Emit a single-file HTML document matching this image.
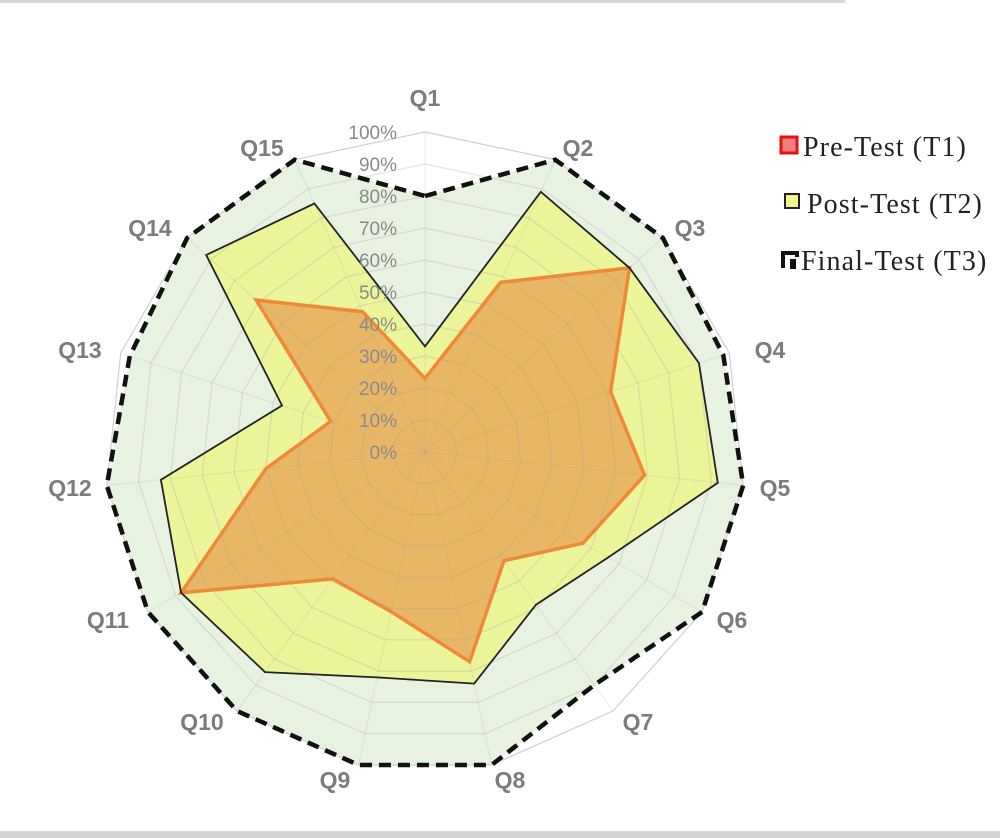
<!DOCTYPE html>
<html><head><meta charset="utf-8"><style>
html,body{margin:0;padding:0;background:#fff;}
svg{display:block}
</style></head><body>
<svg id="s" width="1000" height="838" xmlns="http://www.w3.org/2000/svg">
<rect x="0" y="0" width="1000" height="838" fill="#fff"/>
<rect x="0" y="0" width="845" height="3" fill="#d8d8d8"/>
<rect x="0" y="831" width="1000" height="7" fill="#d4d4d4"/>
<g id="g"></g>
<g font-family="Liberation Serif, serif" font-size="28" letter-spacing="1.1" fill="#222">
<rect x="781" y="137" width="16" height="16" fill="#f08080" stroke="#e81010" stroke-width="3"/>
<text x="803" y="156">Pre-Test (T1)</text>
<rect x="785" y="194" width="14" height="14" fill="#f5f590" stroke="#222" stroke-width="2"/>
<text x="807" y="213">Post-Test (T2)</text>
<path d="M783 268 V253 H797 V257" fill="none" stroke="#111" stroke-width="4"/>
<rect x="790" y="259" width="6" height="10" fill="#111"/>
<text x="801" y="270">Final-Test (T3)</text>
</g>
</svg>
<script>
const cx=425,cy=452,R=320,N=15,ns="http://www.w3.org/2000/svg";
const g=document.getElementById('g');
function pt(i,v){const a=i*2*Math.PI/N;return [cx+R*v*Math.sin(a),cy-R*v*Math.cos(a)];}
function poly(vals,attrs){const p=document.createElementNS(ns,'polygon');p.setAttribute('points',vals.map((v,i)=>pt(i,v).map(n=>n.toFixed(1)).join(',')).join(' '));for(const k in attrs)p.setAttribute(k,attrs[k]);g.appendChild(p);}
function line(x1,y1,x2,y2,attrs){const l=document.createElementNS(ns,'line');l.setAttribute('x1',x1);l.setAttribute('y1',y1);l.setAttribute('x2',x2);l.setAttribute('y2',y2);for(const k in attrs)l.setAttribute(k,attrs[k]);g.appendChild(l);}
function text(x,y,s,attrs){const t=document.createElementNS(ns,'text');t.setAttribute('x',x);t.setAttribute('y',y);t.textContent=s;for(const k in attrs)t.setAttribute(k,attrs[k]);g.appendChild(t);}
const T3=[0.80,1,1,0.98,1,1,0.90,1,1,1,1,1,0.97,1,1];
const T2=[0.33,0.89,0.86,0.90,0.92,0.66,0.59,0.74,0.72,0.85,0.88,0.83,0.47,0.92,0.85];
const T1=[0.23,0.58,0.86,0.61,0.69,0.57,0.42,0.67,0.51,0.49,0.88,0.50,0.31,0.71,0.48];
poly(T3,{fill:'#e7f2e1',stroke:'none'});
poly(T2,{fill:'#edf59a',stroke:'none'});
poly(T1,{fill:'#e8b765',stroke:'none'});
for(let k=1;k<=10;k++){poly(new Array(N).fill(k/10),{fill:'none',stroke:k==10?'#d0d0d0':'rgba(150,150,150,0.25)','stroke-width':1.2});}
for(let i=0;i<N;i++){const [x,y]=pt(i,1);line(cx,cy,x.toFixed(1),y.toFixed(1),{stroke:'rgba(150,150,150,0.18)','stroke-width':1});}
poly(T1,{fill:'none',stroke:'#ee8a35','stroke-width':3.5,'stroke-linejoin':'miter'});
poly(T2,{fill:'none',stroke:'#222','stroke-width':1.8});
poly(T3,{fill:'none',stroke:'#111','stroke-width':4.5,'stroke-dasharray':'12,7'});
for(let k=0;k<=10;k++){text(397,cy-R*k/10+7,k*10+'%',{'font-family':'Liberation Sans, sans-serif','font-size':19,fill:'#8a8a8a','text-anchor':'end'});}
const L=[[425,98],[578,148],[690,228],[770,350],[775,488],[732,620],[638,722],[510,780],[335,780],[202,722],[108,620],[70,488],[80,350],[150,228],[262,148]];
L.forEach((p,i)=>text(p[0],p[1]+8,'Q'+(i+1),{'font-family':'Liberation Sans, sans-serif','font-size':23,'font-weight':'bold',fill:'#7c7c7c','text-anchor':'middle'}));
</script>
</body></html>
